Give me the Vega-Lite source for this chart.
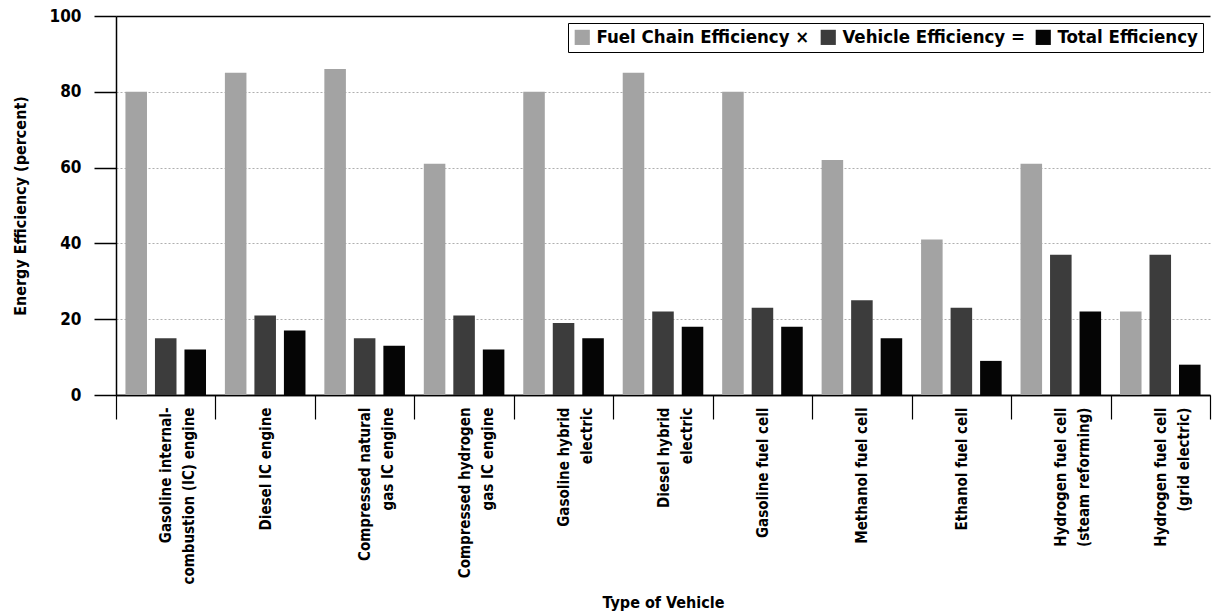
{
  "$schema": "https://vega.github.io/schema/vega-lite/v6.json",
  "autosize": {"type": "none"},
  "width": 1094,
  "height": 379,
  "padding": {"left": 116, "top": 16, "right": 3, "bottom": 221},
  "background": "white",
  "config": {
    "font": "'DejaVu Sans Condensed', Roboto, sans-serif",
    "view": {"stroke": null},
    "axis": {"labelFont": "'DejaVu Sans Condensed', Roboto, sans-serif", "titleFont": "'DejaVu Sans Condensed', Roboto, sans-serif", "labelColor": "#000", "titleColor": "#000"},
    "legend": {"labelFont": "'DejaVu Sans Condensed', Roboto, sans-serif"}
  },
  "data": {
    "values": [
      {"vehicle": "Gasoline  internal-|combustion (IC) engine", "series": "Fuel Chain Efficiency ×", "value": 80},
      {"vehicle": "Gasoline  internal-|combustion (IC) engine", "series": "Vehicle Efficiency =", "value": 15},
      {"vehicle": "Gasoline  internal-|combustion (IC) engine", "series": "Total Efficiency", "value": 12},
      {"vehicle": "Diesel IC engine", "series": "Fuel Chain Efficiency ×", "value": 85},
      {"vehicle": "Diesel IC engine", "series": "Vehicle Efficiency =", "value": 21},
      {"vehicle": "Diesel IC engine", "series": "Total Efficiency", "value": 17},
      {"vehicle": "Compressed natural|gas IC engine", "series": "Fuel Chain Efficiency ×", "value": 86},
      {"vehicle": "Compressed natural|gas IC engine", "series": "Vehicle Efficiency =", "value": 15},
      {"vehicle": "Compressed natural|gas IC engine", "series": "Total Efficiency", "value": 13},
      {"vehicle": "Compressed hydrogen|gas IC engine", "series": "Fuel Chain Efficiency ×", "value": 61},
      {"vehicle": "Compressed hydrogen|gas IC engine", "series": "Vehicle Efficiency =", "value": 21},
      {"vehicle": "Compressed hydrogen|gas IC engine", "series": "Total Efficiency", "value": 12},
      {"vehicle": "Gasoline hybrid|electric", "series": "Fuel Chain Efficiency ×", "value": 80},
      {"vehicle": "Gasoline hybrid|electric", "series": "Vehicle Efficiency =", "value": 19},
      {"vehicle": "Gasoline hybrid|electric", "series": "Total Efficiency", "value": 15},
      {"vehicle": "Diesel hybrid|electric", "series": "Fuel Chain Efficiency ×", "value": 85},
      {"vehicle": "Diesel hybrid|electric", "series": "Vehicle Efficiency =", "value": 22},
      {"vehicle": "Diesel hybrid|electric", "series": "Total Efficiency", "value": 18},
      {"vehicle": "Gasoline fuel cell", "series": "Fuel Chain Efficiency ×", "value": 80},
      {"vehicle": "Gasoline fuel cell", "series": "Vehicle Efficiency =", "value": 23},
      {"vehicle": "Gasoline fuel cell", "series": "Total Efficiency", "value": 18},
      {"vehicle": "Methanol fuel cell", "series": "Fuel Chain Efficiency ×", "value": 62},
      {"vehicle": "Methanol fuel cell", "series": "Vehicle Efficiency =", "value": 25},
      {"vehicle": "Methanol fuel cell", "series": "Total Efficiency", "value": 15},
      {"vehicle": "Ethanol fuel cell", "series": "Fuel Chain Efficiency ×", "value": 41},
      {"vehicle": "Ethanol fuel cell", "series": "Vehicle Efficiency =", "value": 23},
      {"vehicle": "Ethanol fuel cell", "series": "Total Efficiency", "value": 9},
      {"vehicle": "Hydrogen fuel cell|(steam reforming)", "series": "Fuel Chain Efficiency ×", "value": 61},
      {"vehicle": "Hydrogen fuel cell|(steam reforming)", "series": "Vehicle Efficiency =", "value": 37},
      {"vehicle": "Hydrogen fuel cell|(steam reforming)", "series": "Total Efficiency", "value": 22},
      {"vehicle": "Hydrogen fuel cell|(grid electric)", "series": "Fuel Chain Efficiency ×", "value": 22},
      {"vehicle": "Hydrogen fuel cell|(grid electric)", "series": "Vehicle Efficiency =", "value": 37},
      {"vehicle": "Hydrogen fuel cell|(grid electric)", "series": "Total Efficiency", "value": 8}
    ]
  },
  "mark": {"type": "bar"},
  "encoding": {
    "x": {
      "field": "vehicle",
      "type": "nominal",
      "sort": null,
      "scale": {"paddingInner": 0, "paddingOuter": 0},
      "axis": {
        "title": "Type of Vehicle",
        "titleFontSize": 16,
        "titleFontWeight": "bold",
        "titlePadding": 10,
        "labelAngle": -90,
        "labelAlign": "right",
        "labelBaseline": "middle",
        "labelFontSize": 15,
        "labelFontWeight": "bold",
        "labelLineHeight": 23,
        "labelExpr": "split(datum.label, '|')",
        "labelPadding": -12,
        "tickBand": "extent",
        "tickSize": 24,
        "tickColor": "#000",
        "tickWidth": 1.2,
        "domainColor": "#000",
        "domainWidth": 1.5,
        "grid": false
      }
    },
    "xOffset": {
      "field": "series",
      "type": "nominal",
      "sort": ["Fuel Chain Efficiency ×", "Vehicle Efficiency =", "Total Efficiency"],
      "scale": {"paddingInner": 0.27, "paddingOuter": 0.32}
    },
    "y": {
      "field": "value",
      "type": "quantitative",
      "scale": {"domain": [0, 100]},
      "axis": {
        "title": "Energy Efficiency (percent)",
        "titleFontSize": 16,
        "titleFontWeight": "bold",
        "titlePadding": 21,
        "values": [0, 20, 40, 60, 80, 100],
        "labelFontSize": 17,
        "labelFontWeight": "bold",
        "labelPadding": 13,
        "tickSize": 22,
        "tickColor": "#000",
        "tickWidth": 1.5,
        "domainColor": "#000",
        "domainWidth": 1.5,
        "grid": true,
        "gridColor": {"condition": {"test": "datum.value == 100 || datum.value == 0", "value": "#000"}, "value": "#9a9a9a"},
        "gridDash": {"condition": {"test": "datum.value == 100 || datum.value == 0", "value": []}, "value": [2, 2]},
        "gridWidth": {"condition": {"test": "datum.value == 100 || datum.value == 0", "value": 1.5}, "value": 0.8}
      }
    },
    "color": {
      "field": "series",
      "type": "nominal",
      "scale": {
        "domain": ["Fuel Chain Efficiency ×", "Vehicle Efficiency =", "Total Efficiency"],
        "range": ["#a3a3a3", "#3c3c3c", "#050505"]
      },
      "legend": {
        "title": null,
        "orient": "top-right",
        "direction": "horizontal",
        "offset": 7,
        "padding": 5,
        "strokeColor": "#000",
        "fillColor": "#fff",
        "symbolType": "square",
        "symbolSize": 230,
        "symbolStrokeWidth": 0,
        "labelFontSize": 18.5,
        "labelFontWeight": "bold",
        "labelColor": "#000",
        "columnPadding": 9,
        "labelOffset": 5,
        "labelLimit": 300
      }
    }
  }
}
